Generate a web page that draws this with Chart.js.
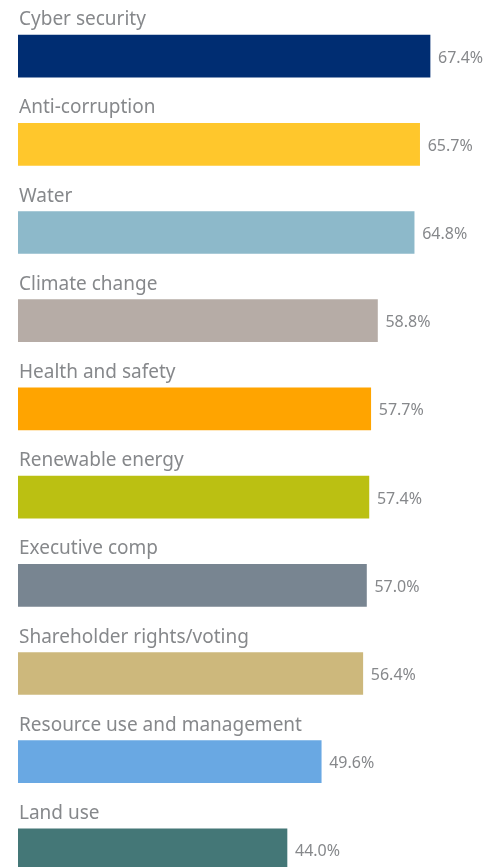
<!DOCTYPE html>
<html>
<head>
<meta charset="utf-8">
<script src="https://cdn.jsdelivr.net/npm/chart.js@4"></script>
<style>
  html, body { margin: 0; padding: 0; background: #fff; overflow: hidden; }
  #wrap { width: 500px; height: 900px; }
</style>
</head>
<body>
<div id="wrap"><canvas id="issueChart" width="500" height="900"></canvas></div>
<script>
// Data
const issues = ['Cyber security', 'Anti-corruption', 'Water', 'Climate change', 'Health and safety',
    'Renewable energy', 'Executive comp', 'Shareholder rights/voting', 'Resource use and management', 'Land use'];
const shares = [67.4, 65.7, 64.8, 58.8, 57.7, 57.4, 57.0, 56.4, 49.6, 44.0];
const barColors = ['#002d72', '#ffc72c', '#8db9ca', '#b6aca6', '#ffa400',
    '#bbc012', '#788591', '#cdb87c', '#69a8e3', '#447777'];

const textGrey = '#86888b';
const labelFont = '19px "Noto Sans"';
const valueFont = '16px "Noto Sans"';

// Category name above each bar, value to the right of it
const barText = {
    id: 'barText',
    afterDatasetsDraw(chart) {
        const ctx = chart.ctx;
        const meta = chart.getDatasetMeta(0);
        ctx.save();
        ctx.fillStyle = textGrey;
        meta.data.forEach((bar, i) => {
            const top = bar.y - bar.height / 2;
            ctx.font = labelFont;
            ctx.textAlign = 'left';
            ctx.textBaseline = 'alphabetic';
            ctx.fillText(issues[i], chart.chartArea.left + 1, top - 10);
            ctx.font = valueFont;
            ctx.textBaseline = 'middle';
            ctx.fillText(shares[i].toFixed(1) + '%', bar.x + 8, bar.y + 2);
        });
        ctx.restore();
    }
};

const config = {
    type: 'bar',
    data: {
        labels: issues,
        datasets: [{
            data: shares,
            backgroundColor: barColors,
            borderWidth: 0,
            barThickness: 42
        }]
    },
    options: {
        indexAxis: 'y',
        responsive: false,
        animation: false,
        layout: { padding: { left: 18, right: 23.5, top: 12, bottom: 6 } },
        scales: {
            x: { display: false, min: 0, max: 75 },
            y: { display: false }
        },
        plugins: {
            legend: { display: false },
            tooltip: { enabled: false }
        }
    },
    plugins: [barText]
};

const ctx = document.getElementById('issueChart').getContext('2d');
new Chart(ctx, config);
</script>
</body>
</html>
